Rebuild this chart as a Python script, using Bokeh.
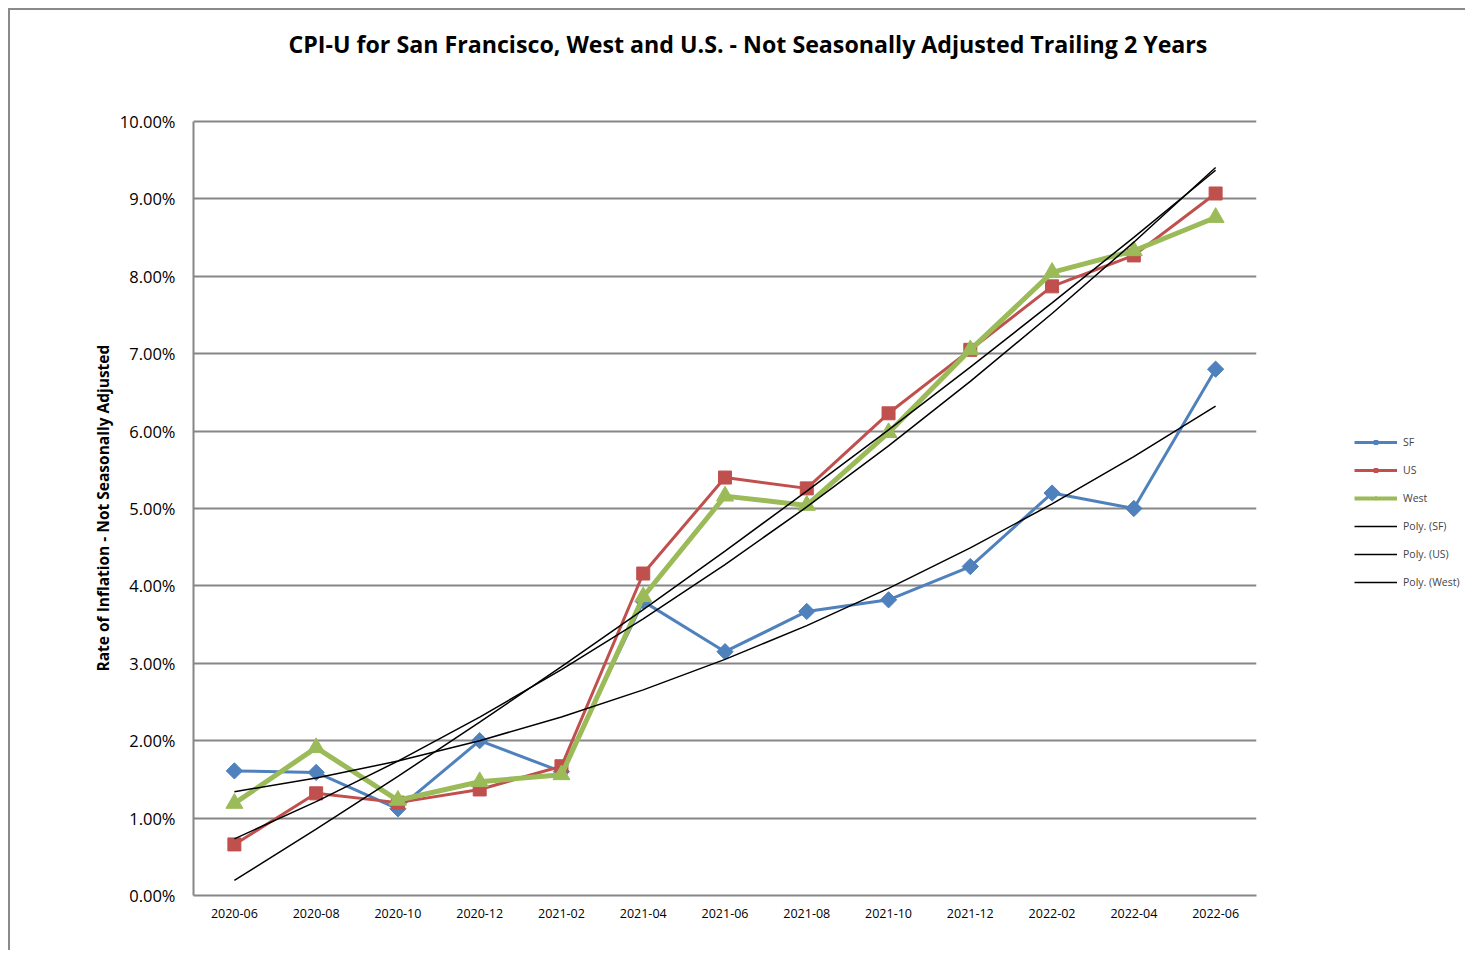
import numpy as np
from bokeh.plotting import figure
from bokeh.models import (FactorRange, Range1d, FixedTicker, PrintfTickFormatter,
                          Legend, LegendItem, ColumnDataSource, Title)
from bokeh.embed import file_html
from bokeh.resources import INLINE

months = ["2020-06", "2020-08", "2020-10", "2020-12", "2021-02", "2021-04", "2021-06",
          "2021-08", "2021-10", "2021-12", "2022-02", "2022-04", "2022-06"]
sf = [1.61, 1.59, 1.12, 2.00, 1.60, 3.80, 3.15, 3.67, 3.82, 4.25, 5.20, 5.00, 6.80]
us = [0.66, 1.32, 1.20, 1.37, 1.67, 4.16, 5.40, 5.26, 6.23, 7.05, 7.87, 8.27, 9.07]
west = [1.19, 1.91, 1.23, 1.47, 1.56, 3.86, 5.16, 5.04, 5.98, 7.05, 8.05, 8.33, 8.76]
y_ticks = [0, 1, 2, 3, 4, 5, 6, 7, 8, 9, 10]

FONT = "Open Sans"
GRID = "#868686"

# frame extends above the 10% line (empty headroom) so the title can sit high
p = figure(frame_width=1063, frame_height=825,
           x_range=FactorRange(factors=months, range_padding=0),
           y_range=Range1d(0, 10.659), output_backend="svg", toolbar_location=None,
           min_border_left=183, min_border_right=204, min_border_top=60, min_border_bottom=55)
p.styles = {"margin-left": "8px", "margin-top": "8px",
            "border-left": "2px solid #8a8a8a", "border-top": "2px solid #8a8a8a"}

p.title.text = "CPI-U for San Francisco, West and U.S. - Not Seasonally Adjusted Trailing 2 Years"
p.title.align = "left"
p.title.offset = 95
p.title.standoff = 22
p.title.text_font = FONT
p.title.text_font_size = "23.2px"
p.title.text_font_style = "bold"
p.title.text_color = "black"

p.outline_line_color = None
p.xgrid.grid_line_color = None
p.ygrid.grid_line_color = GRID
p.ygrid.grid_line_width = 2
p.yaxis.ticker = FixedTicker(ticks=y_ticks)
p.yaxis.formatter = PrintfTickFormatter(format="%.2f%%")
p.yaxis.bounds = (0, 10)
for ax in (p.xaxis, p.yaxis):
    ax.axis_line_color = GRID
    ax.axis_line_width = 2
    ax.major_tick_line_color = None
    ax.minor_tick_line_color = None
    ax.major_label_text_font = FONT
    ax.major_label_text_color = "black"
p.yaxis.major_label_text_font_size = "16.5px"
p.xaxis.major_label_text_font_size = "12.5px"
p.yaxis.major_label_standoff = 12
p.xaxis.major_label_standoff = 7

ytitle = Title(text="Rate of Inflation - Not Seasonally Adjusted", align="left", offset=224,
               standoff=6, text_font=FONT, text_font_size="15.5px", text_font_style="bold",
               text_color="black")
p.add_layout(ytitle, "left")

xi = np.arange(len(months))
def trend(vals):
    c = np.polyfit(xi, vals, 2)
    return list(np.polyval(c, xi))

# name, values, colour, marker, angle, line width, marker size, legend marker size
series = [("SF", sf, "#4F81BD", "square", np.pi / 4, 3, 11.5, 7),
          ("US", us, "#C0504D", "square", 0, 3, 13, 9),
          ("West", west, "#9BBB59", "triangle", 0, 5, 17, 10)]
for name, vals, col, mk, ang, lw, sz, lsz in series:
    src = ColumnDataSource(dict(x=months, y=vals))
    p.line("x", "y", source=src, line_color=col, line_width=lw)
    p.scatter("x", "y", source=src, marker=mk, angle=ang, size=sz, fill_color=col, line_color=col)

legend_items = []
for name, vals, col, mk, ang, lw, sz, lsz in series:
    lr = p.line([months[0]], [np.nan], line_color=col, line_width=3 if lw == 3 else 4)
    sr = p.scatter([months[0]], [np.nan], marker=mk, angle=ang, size=lsz,
                   fill_color=col, line_color=col)
    legend_items.append(LegendItem(label=name, renderers=[lr, sr]))

for name, vals, col, mk, ang, lw, sz, lsz in series:
    t = p.line(months, trend(vals), line_color="black", line_width=1.5)
    legend_items.append(LegendItem(label="Poly. (%s)" % name, renderers=[t]))

legend = Legend(items=legend_items, location=(98, 306), orientation="vertical")
legend.label_text_font = FONT
legend.label_text_font_size = "10.5px"
legend.glyph_width = 43
legend.glyph_height = 10
legend.label_height = 10
legend.spacing = 14
legend.padding = 0
legend.margin = 0
legend.border_line_color = None
legend.background_fill_alpha = 0
legend.label_standoff = 6
p.add_layout(legend, "right")

open("out.html", "w").write(file_html(p, INLINE))
